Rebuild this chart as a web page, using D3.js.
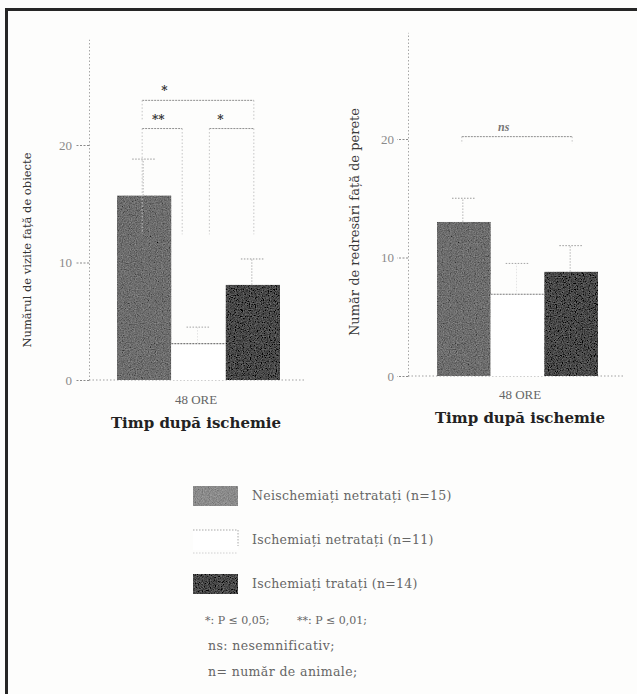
<!DOCTYPE html>
<html>
<head>
<meta charset="utf-8">
<script src="https://cdn.jsdelivr.net/npm/d3@7"></script>
<style>
  html, body { margin: 0; padding: 0; background: #fdfdfc; }
  svg { display: block; }
</style>
</head>
<body>
<svg id="fig" width="637" height="694"></svg>
<script>
// Groups and their sample sizes
const groups = ["Neischemiați netratați", "Ischemiați netratați", "Ischemiați tratați"];
const groupN = [15, 11, 14];
const timeLabel = "48 ORE";

// Object exploration test: visits (mean, SEM)
const visitsMean = [15.7, 3.1, 8.1];
const visitsSem = [3.1, 1.4, 2.2];

// Wall rearing test: rearings (mean, SEM)
const rightingMean = [13.0, 6.9, 8.8];
const rightingSem = [2.0, 2.6, 2.2];

const yTicks = [0, 10, 20];
const yMax = 29;

// Pairwise comparisons (group indices, label, bracket height in y units)
const visitsSig = [
  { a: 0, b: 1, label: "**", level: 21.4 },
  { a: 1, b: 2, label: "*", level: 21.4 },
  { a: 0, b: 2, label: "*", level: 23.8 }
];
const rightingSig = [
  { a: 0, b: 2, label: "ns", level: 20.2 }
];

const notes = [
  ["*: P ≤ 0,05;", "**: P ≤ 0,01;"],
  ["ns: nesemnificativ;"],
  ["n= număr de animale;"]
];

// ---- styling ----
const barFill = ["#6c6c6c", "#ffffff", "#464646"];
const serif = "'DejaVu Serif', serif";
const times = "'Liberation Serif', 'Times New Roman', serif";

const svg = d3.select("#fig");

// grainy print texture for filled bars
const defs = svg.append("defs");
const grain = defs.append("filter").attr("id", "grain")
  .attr("x", 0).attr("y", 0).attr("width", "100%").attr("height", "100%");
grain.append("feTurbulence").attr("type", "fractalNoise")
  .attr("baseFrequency", "0.85").attr("numOctaves", 2).attr("seed", 7).attr("result", "noise");
grain.append("feColorMatrix").attr("in", "noise").attr("type", "matrix")
  .attr("values", "0.33 0.33 0.33 0 0  0.33 0.33 0.33 0 0  0.33 0.33 0.33 0 0  0 0 0 0 1")
  .attr("result", "gray");
grain.append("feComposite").attr("in", "SourceGraphic").attr("in2", "gray")
  .attr("operator", "arithmetic").attr("k1", 0).attr("k2", 1).attr("k3", 0.55).attr("k4", -0.27)
  .attr("result", "mix");
grain.append("feComposite").attr("in", "mix").attr("in2", "SourceGraphic").attr("operator", "in");

// page frame (top and left rules)
svg.append("line").attr("x1", 5).attr("x2", 637).attr("y1", 9.5).attr("y2", 9.5)
  .attr("stroke", "#262626").attr("stroke-width", 3);
svg.append("line").attr("x1", 6.5).attr("x2", 6.5).attr("y1", 8).attr("y2", 694)
  .attr("stroke", "#262626").attr("stroke-width", 3);

function panel(cfg) {
  const g = svg.append("g");
  const x = d3.scaleBand().domain(d3.range(groups.length)).range(cfg.barRange).padding(0);
  const y = d3.scaleLinear().domain([0, yMax]).range(cfg.yRange);
  const bw = x.bandwidth();
  const cx = i => x(i) + bw / 2;

  // y axis
  const axis = g.append("g").attr("transform", `translate(${cfg.axisX},0)`)
    .call(d3.axisLeft(y).tickValues(yTicks).tickSize(cfg.tickSize).tickSizeOuter(0).tickPadding(3));
  axis.select(".domain").attr("stroke", "#a6a6a6").attr("stroke-dasharray", "1.5,2");
  axis.selectAll(".tick line").attr("stroke", "#8a8a8a").attr("stroke-dasharray", "2,1.5");
  axis.selectAll(".tick text").attr("fill", "#8a8a8a")
    .style("font-family", times).style("font-size", cfg.tickFont + "px");

  // baseline
  g.append("line").attr("x1", cfg.axisX).attr("x2", cfg.baseEnd)
    .attr("y1", y(0)).attr("y2", y(0))
    .attr("stroke", "#a0a0a0").attr("stroke-dasharray", "1.5,2");

  // bars
  g.selectAll("rect.bar").data(cfg.mean).join("rect").attr("class", "bar")
    .attr("x", (d, i) => x(i)).attr("width", bw)
    .attr("y", d => y(d)).attr("height", d => y(0) - y(d))
    .attr("fill", (d, i) => barFill[i])
    .attr("filter", (d, i) => barFill[i] === "#ffffff" ? null : "url(#grain)");

  // the open bar shows only its top edge
  cfg.mean.forEach((m, i) => {
    if (barFill[i] !== "#ffffff") return;
    g.append("line").attr("x1", x(i)).attr("x2", x(i) + bw)
      .attr("y1", y(m)).attr("y2", y(m))
      .attr("stroke", "#7a7a7a").attr("stroke-width", 1.2).attr("stroke-dasharray", "2,1");
  });

  // error bars (upper whisker)
  cfg.mean.forEach((m, i) => {
    const top = m + cfg.sem[i];
    const open = barFill[i] === "#ffffff";
    g.append("line").attr("x1", cx(i) - 1).attr("x2", cx(i) - 1)
      .attr("y1", y(m)).attr("y2", y(top))
      .attr("stroke", open ? "#e4e4e4" : "#b4b4b4").attr("stroke-dasharray", "1.5,1.5");
    g.append("line").attr("x1", cx(i) - bw * 0.22).attr("x2", cx(i) + bw * 0.22)
      .attr("y1", y(top)).attr("y2", y(top))
      .attr("stroke", open ? "#a4a4a4" : "#9a9a9a").attr("stroke-dasharray", "1.5,1.5");
  });

  // significance brackets
  cfg.sig.forEach((s, k) => {
    const x1 = cx(s.a) + (s.a > 0 ? bw * 0.2 : -2);
    const x2 = cx(s.b) - (s.b - s.a === 1 && s.a === 0 ? bw * 0.3 : -1);
    const yl = y(s.level);
    const legDown = cfg.legs[k];
    g.append("line").attr("x1", x1).attr("x2", x2).attr("y1", yl).attr("y2", yl)
      .attr("stroke", "#8e8e8e").attr("stroke-dasharray", "2,1");
    [x1, x2].forEach(xx => {
      g.append("line").attr("x1", xx).attr("x2", xx)
        .attr("y1", yl).attr("y2", y(s.level - legDown))
        .attr("stroke", "#c4c4c4").attr("stroke-dasharray", "1.5,2");
    });
    const lx = x1 + (x2 - x1) * cfg.labelAt[k];
    g.append("text").attr("x", lx).attr("y", yl - cfg.labelLift)
      .attr("text-anchor", "middle")
      .attr("fill", s.label === "ns" ? "#777" : "#333")
      .style("font-family", s.label === "ns" ? times : serif)
      .style("font-style", s.label === "ns" ? "italic" : "normal")
      .style("font-size", "12px")
      .style("font-weight", "bold")
      .text(s.label);
  });

  // x labels
  g.append("text").attr("x", cfg.labelX).attr("y", cfg.catY)
    .attr("text-anchor", "middle").attr("fill", "#666")
    .style("font-family", times).style("font-size", "13px").text(timeLabel);
  g.append("text").attr("x", cfg.labelX).attr("y", cfg.titleY)
    .attr("text-anchor", "middle").attr("fill", "#222")
    .style("font-family", serif).style("font-weight", "bold").style("font-size", "15px")
    .text("Timp după ischemie");

  // y title
  g.append("text")
    .attr("transform", `translate(${cfg.yTitleX},${cfg.yTitleY}) rotate(-90)`)
    .attr("text-anchor", "middle").attr("fill", cfg.yTitleColor)
    .style("font-family", serif).style("font-size", cfg.yTitleFont + "px")
    .text(cfg.yTitle);
}

panel({
  mean: visitsMean, sem: visitsSem, sig: visitsSig,
  barRange: [117, 280], yRange: [380, 380 - yMax * 11.75],
  axisX: 89, baseEnd: 305, tickSize: 14, tickFont: 13,
  legs: [9, 9, 1.7], labelAt: [0.4, 0.25, 0.2], labelLift: 5,
  labelX: 196, catY: 404, titleY: 428,
  yTitle: "Numărul de vizite față de obiecte", yTitleX: 31, yTitleY: 250,
  yTitleFont: 11.5, yTitleColor: "#333"
});

panel({
  mean: rightingMean, sem: rightingSem, sig: rightingSig,
  barRange: [437, 598], yRange: [376, 376 - yMax * 11.85],
  axisX: 408, baseEnd: 624, tickSize: 11, tickFont: 13,
  legs: [0.6], labelAt: [0.38], labelLift: 6,
  labelX: 520, catY: 399, titleY: 423,
  yTitle: "Număr de redresări față de perete", yTitleX: 359, yTitleY: 222,
  yTitleFont: 13, yTitleColor: "#3a3a3a"
});

// legend
const legend = svg.append("g");
const legY = d3.scalePoint().domain(d3.range(groups.length)).range([496, 584]);
groups.forEach((name, i) => {
  const cy = legY(i);
  const open = barFill[i] === "#ffffff";
  legend.append("rect").attr("x", 193).attr("y", cy - 10).attr("width", 45).attr("height", 20)
    .attr("fill", open ? "#ffffff" : (i === 0 ? "#8a8a8a" : barFill[i]))
    .attr("filter", open ? null : "url(#grain)");
  if (open) {
    legend.append("path")
      .attr("d", `M193,${cy - 10}H238V${cy + 6}`)
      .attr("fill", "none").attr("stroke", "#a8a8a8").attr("stroke-dasharray", "1.5,1.5");
    legend.append("line").attr("x1", 193).attr("x2", 238).attr("y1", cy + 13).attr("y2", cy + 13)
      .attr("stroke", "#d0d0d0").attr("stroke-dasharray", "1.5,1.5");
  }
  legend.append("text").attr("x", 252).attr("y", cy + 4).attr("fill", "#666")
    .style("font-family", serif).style("font-size", "12.5px").style("letter-spacing", "0.3px")
    .text(`${name} (n=${groupN[i]})`);
});

// notes under the legend
const noteY = d3.scalePoint().domain(d3.range(notes.length)).range([624, 676]);
notes.forEach((row, r) => {
  row.forEach((t, c) => {
    legend.append("text").attr("x", r === 0 ? (c === 0 ? 205 : 297) : 208)
      .attr("y", noteY(r)).attr("fill", "#666")
      .style("font-family", serif).style("font-size", r === 0 ? "11px" : "12.5px")
      .style("letter-spacing", r === 0 ? "0px" : "0.4px")
      .text(t);
  });
});
</script>
</body>
</html>
